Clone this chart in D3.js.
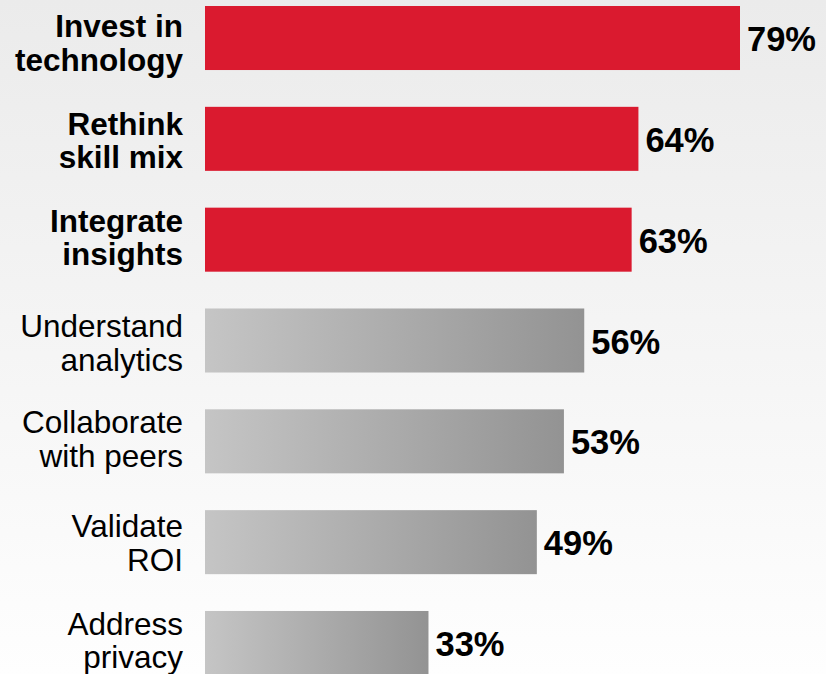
<!DOCTYPE html>
<html>
<head>
<meta charset="utf-8">
<script src="https://cdn.jsdelivr.net/npm/d3@7"></script>
<style>
  html, body { margin: 0; padding: 0; overflow: hidden; }
  svg { display: block; }
</style>
</head>
<body>
<script>
// Survey priorities: share of respondents (%)
const categories = [
  ["Invest in", "technology"],
  ["Rethink", "skill mix"],
  ["Integrate", "insights"],
  ["Understand", "analytics"],
  ["Collaborate", "with peers"],
  ["Validate", "ROI"],
  ["Address", "privacy"]
];
const values = [79, 64, 63, 56, 53, 49, 33];
const highlighted = [true, true, true, false, false, false, false];

// Layout: baseline of each label's first line, relative to the bar centre
const labelShift = [-1, -4, -8, -3.5, -8, -5, -8];

const W = 826, H = 674;
const svg = d3.select("body").append("svg").attr("width", W).attr("height", H);
const defs = svg.append("defs");

// Page background: light gray fading to white
const bg = defs.append("linearGradient").attr("id", "bg").attr("x1", 0).attr("y1", 0).attr("x2", 0).attr("y2", 1);
bg.append("stop").attr("offset", "0%").attr("stop-color", "#ebebeb");
bg.append("stop").attr("offset", "100%").attr("stop-color", "#fefefe");
svg.append("rect").attr("width", W).attr("height", H).attr("fill", "url(#bg)");

// Gray bar fill: lighter at the base, darker at the tip
const gg = defs.append("linearGradient").attr("id", "grayBar").attr("x1", 0).attr("y1", 0).attr("x2", 1).attr("y2", 0);
gg.append("stop").attr("offset", "0%").attr("stop-color", "#c5c5c5");
gg.append("stop").attr("offset", "100%").attr("stop-color", "#939393");

const x = d3.scaleLinear().domain([0, 79]).range([205, 740]);
const y = d3.scaleBand().domain(d3.range(values.length)).range([6, 675]).paddingInner(0.365).paddingOuter(0);

const rows = svg.selectAll("g.row").data(values).join("g").attr("class", "row");

rows.append("rect")
  .attr("x", x(0))
  .attr("y", (d, i) => y(i))
  .attr("width", d => x(d) - x(0))
  .attr("height", y.bandwidth())
  .attr("fill", (d, i) => highlighted[i] ? "#da1a2f" : "url(#grayBar)");

const cy = i => y(i) + y.bandwidth() / 2;

rows.append("text")
  .attr("x", d => x(d) + 7)
  .attr("y", (d, i) => cy(i) + 13)
  .attr("font-family", "Liberation Sans, Arial, sans-serif")
  .attr("font-weight", "bold")
  .attr("font-size", 34.5)
  .attr("fill", "#000")
  .text(d => d + "%");

const lab = rows.append("text")
  .attr("text-anchor", "end")
  .attr("font-family", "Liberation Sans, Arial, sans-serif")
  .attr("font-size", 31.5)
  .attr("font-weight", (d, i) => highlighted[i] ? "bold" : "normal")
  .attr("fill", "#000");

lab.each(function(d, i) {
  const t = d3.select(this);
  categories[i].forEach((line, k) => {
    t.append("tspan").attr("x", 183).attr("y", cy(i) + labelShift[i] + k * 33.5).text(line);
  });
});
</script>
</body>
</html>
